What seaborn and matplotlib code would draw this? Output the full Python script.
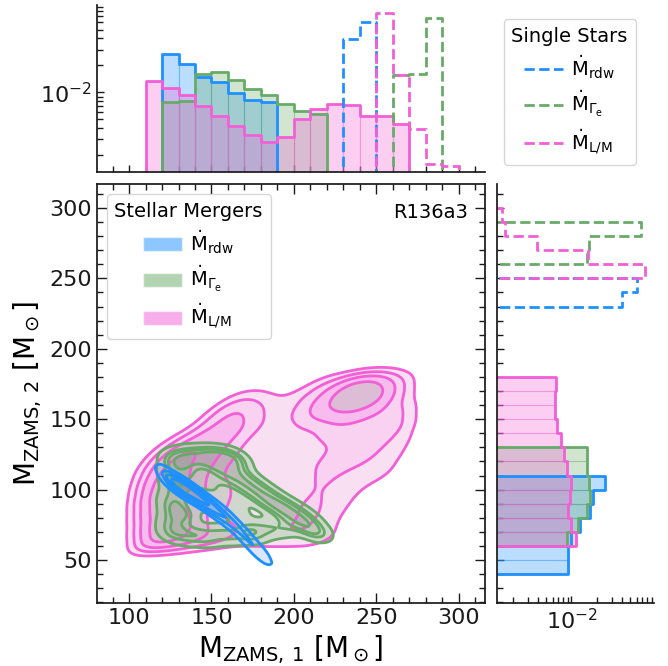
import numpy as np
import pandas as pd
import matplotlib
matplotlib.use("Agg")
import matplotlib.pyplot as plt
import seaborn as sns
from matplotlib.colors import to_rgba
from matplotlib.patches import Patch
from matplotlib.lines import Line2D
from matplotlib.ticker import MultipleLocator, LogLocator, NullFormatter

sns.set_style("ticks", rc={"axes.edgecolor": "0.1", "xtick.color": "0.1",
                           "ytick.color": "0.1", "text.color": "black",
                           "axes.labelcolor": "black"})
plt.rcParams["font.family"] = ["DejaVu Sans"]
plt.rcParams["mathtext.default"] = "regular"
plt.rcParams["axes.linewidth"] = 1.25

C_RDW = "#1e90ff"
C_GAM = "#68ab68"
C_LM = "#f25fd6"

# ---- stellar-merger progenitors (M_ZAMS,1 , M_ZAMS,2) ----
# rdw models: for each M_ZAMS,1 column, the M_ZAMS,2 values and their weights
rdw_m1 = [126, 132, 138, 144, 150, 156, 162, 168, 174, 180]
rdw_m2 = [[100, 102, 104, 106, 108, 110, 112],
          [96, 98, 100, 102, 104, 106, 108],
          [92, 94, 96, 98, 100, 102, 104],
          [87, 89, 91, 93, 95, 97, 99],
          [82, 84, 86, 88, 90, 92, 94],
          [77, 79, 81, 83, 85, 87, 89],
          [71, 73, 75, 77, 79, 81, 83],
          [64, 66, 68, 70, 72, 74, 76],
          [56, 58, 60, 62, 64, 66, 68],
          [48, 50, 52, 54, 56, 58, 60]]
rdw_w = [[3, 6, 9, 12, 9, 6, 3],
         [3, 6, 10, 13, 10, 6, 3],
         [3, 6, 9, 12, 9, 6, 3],
         [2, 5, 7, 10, 7, 5, 2],
         [2, 4, 6, 8, 6, 4, 2],
         [2, 3, 4, 6, 4, 3, 2],
         [1, 2, 4, 5, 4, 2, 1],
         [1, 2, 3, 4, 3, 2, 1],
         [1, 2, 3, 4, 3, 2, 1],
         [1, 2, 3, 4, 3, 2, 1]]

gam_m1 = [125, 128, 126, 131, 127, 133, 126, 130, 128, 132, 126, 129, 133,
          127, 131, 135,
          139, 143, 146, 150, 154, 158, 162, 166,
          152, 155, 158, 161, 164, 167, 170, 173, 176, 179, 182, 185,
          188, 191, 194, 197, 200, 203, 206, 209, 212, 215,
          145, 150, 158, 140, 165, 152,
          136, 142, 148, 155, 162, 170, 174, 178, 186, 195]
gam_m2 = [68, 72, 77, 81, 86, 84, 92, 96, 102, 106, 110, 115, 118,
          120, 122, 123,
          124, 121, 125, 122, 125, 121, 124, 120,
          116, 120, 112, 116, 107, 111, 102, 106, 97, 101, 92, 96,
          88, 91, 84, 87, 79, 83, 75, 78, 71, 69,
          100, 88, 95, 110, 85, 105,
          66, 68, 66, 69, 67, 70, 68, 72, 72, 73]

# L/M models: relative weights on a 10 Msun grid
lm_grid_m1 = [115, 125, 135, 145, 155, 165, 175, 185, 195, 205, 215, 225,
              235, 245, 255, 265]
lm_grid_m2 = [175, 165, 155, 145, 135, 125, 115, 105, 95, 85, 75, 65]
lm_grid_w = [
    [0, 0, 0, 0, 0, 0, 0, 0, 0, 0, 2, 3, 7, 8, 5, 2],
    [0, 0, 0, 0, 0, 2, 2, 1, 1, 2, 3, 6, 9, 9, 5, 2],
    [0, 0, 0, 0, 3, 4, 3, 1, 1, 3, 4, 5, 5, 4, 3, 3],
    [0, 0, 0, 2, 4, 4, 3, 1, 1, 2, 2, 3, 3, 2, 3, 3],
    [0, 1, 3, 5, 4, 3, 1, 1, 1, 1, 2, 2, 2, 2, 2, 2],
    [1, 5, 6, 5, 3, 2, 1, 1, 1, 1, 2, 2, 2, 2, 2, 1],
    [4, 7, 5, 4, 2, 1, 1, 1, 1, 2, 2, 2, 2, 2, 1, 1],
    [7, 8, 5, 3, 2, 2, 1, 1, 1, 2, 2, 2, 1, 1, 1, 0],
    [9, 8, 5, 3, 2, 2, 1, 1, 1, 2, 2, 2, 1, 0, 0, 0],
    [9, 7, 5, 3, 2, 1, 1, 1, 2, 2, 2, 2, 0, 0, 0, 0],
    [9, 8, 6, 3, 2, 2, 1, 1, 2, 2, 2, 1, 0, 0, 0, 0],
    [9, 8, 6, 4, 3, 2, 2, 2, 2, 2, 2, 1, 0, 0, 0, 0],
]

# ---- marginal densities per 10 Msun bin (left bin edges + values) ----
BIN = 10
rdw_m1_left = [120, 130, 140, 150, 160, 170, 180]
rdw_m1_dens = [0.0265, 0.0205, 0.0149, 0.0129, 0.0099, 0.0083, 0.0079]
gam_m1_left = [120, 130, 140, 150, 160, 170, 180, 190, 200, 210]
gam_m1_dens = [0.0078, 0.0081, 0.0159, 0.0169, 0.0136, 0.0109, 0.0093,
               0.0075, 0.0062, 0.0058]
lm_m1_left = [110, 120, 130, 140, 150, 160, 170, 180, 190, 200, 210, 220,
              230, 240, 250, 260]
lm_m1_dens = [0.0134, 0.0113, 0.0094, 0.0070, 0.0055, 0.0042, 0.0034,
              0.0028, 0.0032, 0.0051, 0.0066, 0.0075, 0.0073, 0.0055,
              0.0054, 0.0045]

rdw_m2_left = [40, 50, 60, 70, 80, 90, 100]
rdw_m2_dens = [0.0091, 0.0091, 0.0100, 0.0128, 0.0165, 0.0181, 0.0249]
gam_m2_left = [60, 70, 80, 90, 100, 110, 120]
gam_m2_dens = [0.0089, 0.0120, 0.0153, 0.0168, 0.0162, 0.0154, 0.0151]
lm_m2_left = [60, 70, 80, 90, 100, 110, 120, 130, 140, 150, 160, 170]
lm_m2_dens = [0.0112, 0.0100, 0.0091, 0.0095, 0.0098, 0.0089, 0.0081,
              0.0076, 0.0067, 0.0063, 0.0063, 0.0066]

# single-star models (same distribution on both axes)
rdw_single_left = [230, 240]
rdw_single_dens = [0.0394, 0.0607]
gam_single_left = [260, 270, 280]
gam_single_dens = [0.0155, 0.0160, 0.0676]
lm_single_left = [250, 260, 270, 280, 290]
lm_single_dens = [0.0760, 0.0157, 0.0039, 0.0016, 0.0015]

LAB_RDW = r"$\dot{\mathrm{M}}_{\mathrm{rdw}}$"
LAB_GAM = r"$\dot{\mathrm{M}}_{\Gamma_{\mathrm{e}}}$"
LAB_LM = r"$\dot{\mathrm{M}}_{\mathrm{L/M}}$"


def marginal(axm, lefts, dens, color, vertical, dashed=False):
    lefts = np.asarray(lefts, float)
    dens = np.asarray(dens, float)
    key = "y" if vertical else "x"
    if not dashed:
        df = pd.DataFrame({"m": lefts + BIN / 2, "w": dens})
        sns.histplot(data=df, **{key: "m"}, weights="w", binwidth=BIN,
                     binrange=(lefts[0], lefts[-1] + BIN), stat="count",
                     color=color, alpha=0.3,
                     edgecolor=to_rgba(color, 0.3), linewidth=0.8, ax=axm)
    # outline, padded with empty bins so the step closes down to the axis
    p_left = np.concatenate([[lefts[0] - BIN], lefts, [lefts[-1] + BIN]])
    p_dens = np.concatenate([[0.0], dens, [0.0]])
    dfp = pd.DataFrame({"m": p_left + BIN / 2, "w": p_dens})
    sns.histplot(data=dfp, **{key: "m"}, weights="w", binwidth=BIN,
                 binrange=(p_left[0], p_left[-1] + BIN), stat="count",
                 element="step", fill=False, color=color, linewidth=2,
                 linestyle="--" if dashed else "-", ax=axm)


fig = plt.figure(figsize=(6.68, 6.66), dpi=100)
ax = fig.add_axes([0.1452, 0.0946, 0.5808, 0.6291])
ax_top = fig.add_axes([0.1452, 0.7417, 0.5808, 0.2515])
ax_rt = fig.add_axes([0.744, 0.0946, 0.2345, 0.6291])

# long-form tables for the joint densities
g1, g2 = np.meshgrid(lm_grid_m1, lm_grid_m2)
lm_df = pd.DataFrame({"m1": g1.ravel(), "m2": g2.ravel(),
                      "w": np.asarray(lm_grid_w, float).ravel()})
lm_df = lm_df[lm_df["w"] > 0]
rdw_df = pd.DataFrame({"m1": np.repeat(rdw_m1, len(rdw_m2[0])),
                       "m2": np.ravel(rdw_m2),
                       "w": np.ravel(rdw_w).astype(float)})
gam_df = pd.DataFrame({"m1": gam_m1, "m2": gam_m2, "w": 1.0})

for df, c, bw in [(lm_df, C_LM, 0.42),
                  (gam_df, C_GAM, 0.5),
                  (rdw_df, C_RDW, 0.62)]:
    kw = dict(data=df, x="m1", y="m2", weights="w", levels=5, thresh=0.05,
              bw_adjust=bw, ax=ax)
    sns.kdeplot(fill=True, alpha=0.35, color=c, **kw)
    sns.kdeplot(color=c, linewidths=2, **kw)

# marginal histograms
for l1, d1, l2, d2, c in [(rdw_m1_left, rdw_m1_dens, rdw_m2_left, rdw_m2_dens, C_RDW),
                          (gam_m1_left, gam_m1_dens, gam_m2_left, gam_m2_dens, C_GAM),
                          (lm_m1_left, lm_m1_dens, lm_m2_left, lm_m2_dens, C_LM)]:
    marginal(ax_top, l1, d1, c, vertical=False)
    marginal(ax_rt, l2, d2, c, vertical=True)

for l, d, c in [(rdw_single_left, rdw_single_dens, C_RDW),
                (gam_single_left, gam_single_dens, C_GAM),
                (lm_single_left, lm_single_dens, C_LM)]:
    marginal(ax_top, l, d, c, vertical=False, dashed=True)
    marginal(ax_rt, l, d, c, vertical=True, dashed=True)

XLIM = (80.5, 316.0)
YLIM = (19.5, 317.0)
DLIM = (1.3e-3, 0.095)

ax.set_xlim(*XLIM)
ax.set_ylim(*YLIM)
for a in (ax.xaxis, ax.yaxis):
    a.set_major_locator(MultipleLocator(50))
    a.set_minor_locator(MultipleLocator(10))
ax.tick_params(which="both", direction="in", top=True, right=True, width=1)
ax.tick_params(which="major", length=7, labelsize=16)
ax.tick_params(which="minor", length=4)
ax.set_xlabel(r"$\mathrm{M}_{\mathrm{ZAMS,\,1}}\ [\mathrm{M}_\odot]$", fontsize=20)
ax.set_ylabel(r"$\mathrm{M}_{\mathrm{ZAMS,\,2}}\ [\mathrm{M}_\odot]$", fontsize=20)
ax.text(0.955, 0.955, "R136a3", transform=ax.transAxes, ha="right", va="top",
        fontsize=14)

ax.legend(handles=[Patch(facecolor=C_RDW, alpha=0.5, label=LAB_RDW),
                   Patch(facecolor=C_GAM, alpha=0.5, label=LAB_GAM),
                   Patch(facecolor=C_LM, alpha=0.5, label=LAB_LM)],
          title="Stellar Mergers", loc="upper left", fontsize=14,
          title_fontsize=14, frameon=True, handletextpad=0.4,
          labelspacing=0.4)

# top marginal
ax_top.set_xlim(*XLIM)
ax_top.set_yscale("log")
ax_top.set_ylim(*DLIM)
ax_top.xaxis.set_major_locator(MultipleLocator(50))
ax_top.xaxis.set_minor_locator(MultipleLocator(10))
ax_top.yaxis.set_major_locator(LogLocator(base=10))
ax_top.yaxis.set_minor_locator(LogLocator(base=10, subs=np.arange(2, 10)))
ax_top.yaxis.set_minor_formatter(NullFormatter())
ax_top.tick_params(which="both", direction="in", labelbottom=False, width=1)
ax_top.tick_params(which="major", length=5, labelsize=16)
ax_top.tick_params(which="minor", length=4)
ax_top.set_xlabel("")
ax_top.set_ylabel("")
sns.despine(ax=ax_top)

# right marginal
ax_rt.set_ylim(*YLIM)
ax_rt.set_xscale("log")
ax_rt.set_xlim(*DLIM)
ax_rt.yaxis.set_major_locator(MultipleLocator(50))
ax_rt.yaxis.set_minor_locator(MultipleLocator(10))
ax_rt.xaxis.set_major_locator(LogLocator(base=10))
ax_rt.xaxis.set_minor_locator(LogLocator(base=10, subs=np.arange(2, 10)))
ax_rt.xaxis.set_minor_formatter(NullFormatter())
ax_rt.tick_params(which="both", direction="in", labelleft=False, width=1)
ax_rt.tick_params(which="major", length=5, labelsize=16)
ax_rt.tick_params(which="minor", length=4)
ax_rt.set_xlabel("")
ax_rt.set_ylabel("")
sns.despine(ax=ax_rt)

fig.legend(handles=[Line2D([], [], color=C_RDW, ls="--", lw=2, label=LAB_RDW),
                    Line2D([], [], color=C_GAM, ls="--", lw=2, label=LAB_GAM),
                    Line2D([], [], color=C_LM, ls="--", lw=2, label=LAB_LM)],
           title="Single Stars", loc="upper right",
           bbox_to_anchor=(0.966, 0.986), fontsize=14, title_fontsize=14,
           frameon=True, handletextpad=0.4, labelspacing=0.4)

fig.savefig("out.png", dpi=100)
